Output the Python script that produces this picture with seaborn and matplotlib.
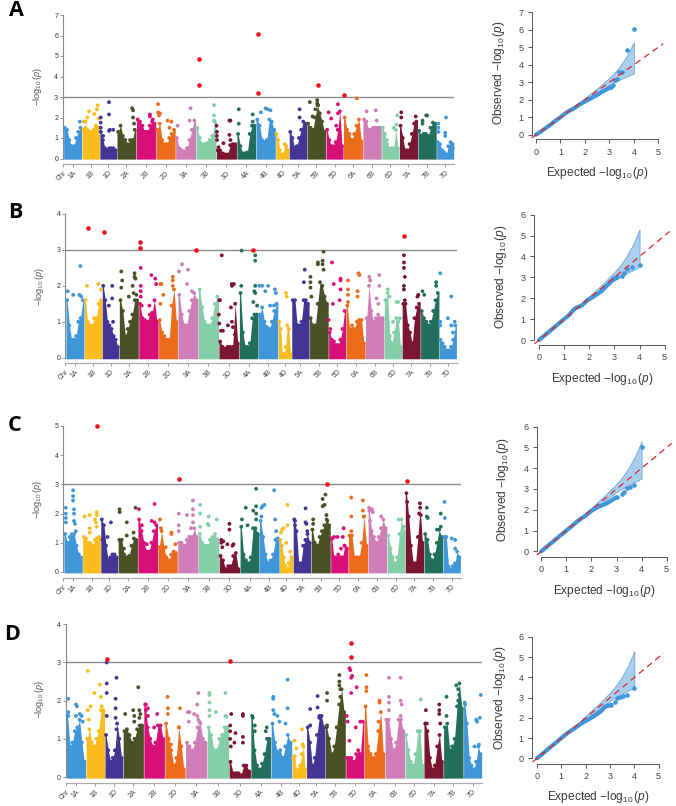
import numpy as np
import pandas as pd
import matplotlib
matplotlib.use("Agg")
import matplotlib.pyplot as plt
import seaborn as sns

sns.set_style("white")
plt.rcParams.update({
    "font.family": ["Liberation Sans", "DejaVu Sans"],
    "mathtext.fontset": "custom",
    "mathtext.rm": "Liberation Sans",
    "mathtext.it": "Liberation Sans:italic",
    "mathtext.bf": "Liberation Sans:bold",
})

W, H = 676, 806
CHROMS = ["1A", "1B", "1D", "2A", "2B", "2D", "3A", "3B", "3D", "4A", "4B", "4D",
          "5A", "5B", "5D", "6A", "6B", "6D", "7A", "7B", "7D"]
CHROM_LEN = [54, 52, 50, 57, 58, 57, 60, 60, 60, 56, 58, 39, 52, 56, 51, 57, 55, 52, 54, 55, 51]
CHROM_COL = ["#3F96D8", "#FBBC1E", "#433594", "#4B5126", "#D80F78", "#EC6C1B", "#CF7DB6",
             "#84CFA7", "#7B1632", "#226F5B", "#3F96D8", "#FBBC1E", "#433594", "#4B5126",
             "#D80F78", "#EC6C1B", "#CF7DB6", "#84CFA7", "#7B1632", "#226F5B", "#3F96D8"]

# Upper edge of the dense mass of points, eight bins along each chromosome
A_ENV = [[1.5,1.4,.9,.6,.6,1.0,1.3,1.5],[1.4,1.5,1.4,1.3,1.3,1.4,1.5,1.5],[1.3,.9,.5,.4,.5,.5,.5,.4],
         [1.3,1.6,1.1,.9,.7,.9,.9,1.4],[1.9,1.8,1.6,1.3,1.3,1.6,1.8,1.7],[1.4,1.7,.9,.7,.7,1.0,1.2,1.4],
         [1.0,.5,.4,.35,.5,.9,1.4,1.85],[1.45,1.0,.7,.7,.75,.9,1.1,1.8],[.4,.4,.25,.2,.2,.65,.7,.7],
         [1.2,.6,.25,.25,.3,1.2,1.6,1.6],[1.9,1.6,.9,.8,.9,1.9,1.8,1.4],[1.2,.9,.4,.2,.2,.7,.6,.4],
         [1.3,1.0,.5,.6,1.0,1.4,1.8,1.7],[1.7,1.5,1.4,2.0,2.6,2.2,1.8,1.3],[1.4,.9,.6,.6,.8,1.4,2.3,.6],
         [2.0,1.4,1.2,.9,1.2,1.6,1.9,.85],[1.9,1.8,1.4,1.4,1.5,1.5,1.5,1.5],[1.5,1.2,.7,.5,.5,.5,1.4,.5],
         [1.6,1.0,.4,.4,.7,1.2,1.7,1.8],[1.35,1.1,1.2,1.2,1.1,1.5,1.75,1.7],[.8,.7,.4,.3,.2,.6,.8,.7]]
B_ENV = [[1.6,.9,.5,.5,.6,1.0,1.1,1.6],[1.6,1.0,.9,.9,1.1,1.1,1.5,1.6],[2.0,1.6,1.0,.9,.8,.6,.5,.3],
         [1.6,1.3,.6,.8,1.0,1.2,1.6,1.6],[1.5,1.1,1.05,1.0,1.2,1.25,1.6,1.0],[1.05,.7,.6,.5,.5,1.45,1.9,1.0],
         [1.75,1.2,.9,.9,1.3,1.6,1.8,1.6],[1.9,1.4,1.0,.9,.9,1.1,1.5,1.7],[.45,.3,.25,.3,.3,.3,1.5,.4],
         [1.8,.7,.3,.3,.4,1.1,1.2,1.2],[1.2,1.4,1.0,.85,.8,1.0,1.3,1.5],[1.0,.8,.1,.1,.3,.9,.8,.1],
         [1.6,1.6,.9,.9,1.0,1.6,1.6,1.5],[1.1,.9,.9,1.5,2.1,2.0,1.7,1.5],[.7,.5,.45,.35,.35,.5,.8,1.3],
         [1.45,.8,.9,.8,1.0,1.05,1.05,.4],[1.1,2.0,1.3,1.0,1.1,1.2,1.1,1.1],[1.6,1.8,.6,.4,.7,1.1,1.0,.3],
         [1.5,1.5,.9,.7,.4,1.1,1.4,1.5],[1.3,1.1,1.0,.9,1.0,1.3,1.6,1.8],[.5,.4,.3,.2,.2,.3,.5,.9]]
C_ENV = [[1.3,1.0,1.2,1.3,1.3,.9,.6,.5],[1.2,1.15,1.0,1.0,.9,1.1,1.15,1.2],[1.8,1.6,.9,.4,.5,.6,.6,.5],
         [1.1,1.1,.6,.5,.55,.9,1.15,1.1],[1.8,1.4,1.0,.7,.7,1.0,1.4,1.6],[.85,1.4,.8,.5,.4,.6,.7,.65],
         [1.0,1.0,.9,1.1,1.2,1.2,1.5,1.2],[1.3,1.0,.9,.9,1.1,1.2,1.3,1.1],[.55,.4,.1,.2,.2,.55,.65,.1],
         [1.55,.6,.4,.3,.5,1.5,1.5,1.3],[1.75,1.2,.6,.3,.4,.6,1.1,1.15],[1.1,.9,.5,.2,.1,.3,.7,.5],
         [1.8,1.4,.3,.3,.9,1.1,1.3,1.0],[1.45,1.0,.9,1.2,1.4,1.6,1.8,1.6],[1.15,.5,.5,.6,.5,.5,.9,.8],
         [1.25,1.25,.5,.5,.5,1.0,1.9,.9],[2.1,1.4,1.2,1.0,1.2,1.5,1.8,1.5],[1.25,.8,.5,.3,.5,1.3,1.8,1.4],
         [2.7,1.9,.9,.3,.3,1.2,2.2,1.0],[1.3,1.1,.6,.4,.6,1.0,1.45,1.2],[1.2,1.2,.2,.1,.2,.3,.7,.5]]
D_ENV = [[1.6,.8,.9,1.2,1.3,1.5,.9,.4],[1.0,1.25,.9,.8,1.0,1.2,1.75,1.75],[1.1,.7,.4,.5,.7,1.4,1.0,.5],
         [1.2,1.25,1.1,.9,1.0,1.25,1.35,1.35],[1.9,1.3,1.0,.8,.9,1.35,1.35,1.0],[1.4,1.0,.7,.3,.5,1.3,.8,.2],
         [.9,.8,.7,.9,1.3,1.4,1.0,.9],[1.3,1.1,.7,.7,1.0,1.1,1.3,1.3],[.4,.1,.1,.1,.05,.3,.3,.15],
         [1.6,.7,.3,.2,.35,.6,1.0,1.0],[1.4,.9,.65,.7,.5,.8,1.1,.9],[.5,.55,.1,.2,.3,.6,.8,.2],
         [1.3,.9,.3,.5,1.1,1.55,1.6,1.3],[1.3,1.0,.6,.8,1.3,1.9,2.3,1.7],[.5,.5,.5,.4,.6,.7,.6,1.45],
         [1.85,.8,.6,.5,.6,1.2,1.7,.6],[1.5,1.5,1.0,.7,.9,1.5,1.5,1.2],[1.1,.7,.4,.3,.6,1.2,1.2,.3],
         [1.4,1.2,.5,.2,.3,.8,1.1,.4],[1.3,1.4,.7,.8,1.0,1.85,2.45,1.8],[1.95,1.4,.5,.3,.2,.4,.8,.6]]

# Isolated points per chromosome: (fraction along the chromosome, -log10 p)
A_PTS = [[(.9,1.8)],[(.1,1.8),(.2,1.8),(.4,2.3),(.3,2.0),(.7,2.17),(.85,2.4),(.9,2.6),(.95,1.95),(.8,1.6)],
         [(.05,2.0),(.05,1.75),(.05,1.5),(.55,2.75),(.55,2.15),(.55,1.35),(.6,1.4),(.8,1.4),(.2,1.1)],
         [(.8,2.45),(.85,2.35),(.85,2.0),(.9,1.7)],[(.7,2.15),(.7,2.05),(.85,1.9)],
         [(.1,2.65),(.1,2.25),(.15,2.1),(.2,2.2),(.6,1.85),(.8,1.8),(.7,1.5)],[(.1,1.6),(.75,2.45),(.7,1.85)],
         [(.05,1.5),(.9,2.6),(.9,2.1),(.9,1.85)],
         [(.0,1.6),(.02,1.3),(.02,1.1),(.03,.9),(.35,.75),(.65,1.85),(.7,1.85),(.65,1.15),(.7,.9),(.9,.65),(.85,.55),(.1,.55)],
         [(.1,2.4),(.1,1.7),(.85,2.15),(.85,1.8)],[(.25,2.25),(.5,2.45),(.6,2.4),(.75,2.35)],[],
         [(.6,2.4),(.6,2.0)],[(.15,2.75),(.55,2.85),(.55,2.7),(.6,2.6),(.3,2.05),(.45,2.4)],
         [(.15,2.25),(.3,1.95),(.7,2.65),(.7,2.2),(.6,1.6)],[(.7,2.93)],[(.2,2.3),(.7,2.35),(.75,1.85)],
         [(.7,1.5),(.9,2.1),(.85,1.65),(.3,.9)],[(.1,2.25),(.1,2.0),(.9,2.05)],
         [(.25,1.85),(.25,1.7),(.45,2.1),(.5,2.1)],[(.1,1.7),(.1,1.5),(.1,1.3),(.5,1.1),(.5,1.25),(.55,2.0),(.95,.5)]]
B_PTS = [[(.1,1.85),(.4,1.75),(.75,1.75),(.8,2.55),(.85,1.7)],[(.15,2.0),(.8,2.05),(.95,1.9)],
         [(.6,2.0),(.6,1.65),(.4,1.45),(.65,1.0)],
         [(.1,2.4),(.15,2.15),(.1,1.95),(.5,1.7),(.7,2.0),(.8,2.35),(.85,2.2),(.8,2.25),(.75,1.8),(.9,1.75)],
         [(.1,2.5),(.1,2.0),(.1,1.85),(.1,1.7),(.65,2.3),(.85,2.2),(.9,2.05),(.15,1.45),(.55,1.45)],
         [(.1,2.05),(.15,2.05),(.25,1.75),(.1,1.5),(.75,2.25),(.75,2.15),(.75,2.0)],
         [(.05,2.4),(.2,2.6),(.5,2.45),(.45,2.05),(.7,1.85)],[],
         [(.14,2.85),(.02,1.6),(.05,1.6),(.0,1.2),(.02,.95),(.1,.75),(.2,.75),(.45,.9),(.65,2.05),(.65,2.0),(.75,2.05),(.6,1.4),(.65,1.0),(.7,.85),(.8,.65)],
         [(.12,2.98),(.1,2.0),(.75,1.55),(.8,1.85),(.85,2.7),(.85,2.85),(.85,2.0),(.85,1.8),(.95,1.45)],
         [(.05,2.0),(.2,2.0),(.35,1.85),(.5,2.0),(.6,1.45),(.85,1.9),(.9,1.8),(.8,1.45)],[(.6,1.8),(.65,1.7)],
         [(.75,2.45),(.7,2.1),(.8,1.3)],
         [(.05,2.25),(.05,2.1),(.05,1.95),(.1,1.7),(.45,2.6),(.45,2.65),(.7,2.7),(.7,2.6),(.75,2.95),(.75,2.45)],
         [(.0,1.05),(.1,.8),(.2,2.65),(.3,2.05),(.25,1.5),(.7,2.2),(.7,2.15),(.7,1.9),(.65,1.6)],
         [(.1,2.15),(.1,1.9),(.1,1.75),(.1,1.55),(.65,2.35),(.7,2.3),(.6,1.85),(.6,1.7)],
         [(.2,2.25),(.25,2.15),(.75,2.3),(.75,2.0),(.6,1.65),(.7,1.5)],
         [(.3,1.7),(.5,1.0),(.7,1.55),(.8,1.55),(.9,1.1),(.2,1.9)],
         [(.1,2.85),(.1,2.65),(.1,2.5),(.15,2.25),(.1,2.0),(.1,1.9),(.15,1.6),(.85,1.7),(.9,1.75)],
         [(.1,1.85),(.2,1.75),(.85,2.1),(.85,2.0)],
         [(.05,2.35),(.05,1.0),(.05,.9),(.5,1.1),(.7,1.7),(.7,.9),(.9,1.0),(.8,.7)]]
C_PTS = [[(.1,2.2),(.1,2.0),(.1,1.85),(.1,1.7),(.5,2.8),(.5,2.6),(.5,2.45),(.55,2.15),(.55,2.0),(.55,1.75),(.6,1.65),(.65,1.4)],
         [(.1,1.9),(.4,1.95),(.4,1.5),(.4,1.35),(.7,1.8),(.75,1.7),(.8,2.05),(.8,1.95),(.8,1.55)],
         [(.6,1.7),(.4,1.2),(.1,1.1)],[(.07,2.15),(.08,2.05),(.45,1.7),(.45,1.25),(.3,.8),(.8,1.35),(.9,2.2)],
         [(.05,2.15),(.2,1.6),(.45,.95),(.85,2.33),(.7,1.75),(.85,1.7)],
         [(.1,1.8),(.15,1.5),(.7,1.35),(.7,1.3),(.9,.95),(.4,.85)],
         [(.05,2.0),(.05,1.6),(.05,1.4),(.45,1.95),(.75,2.45),(.75,2.15),(.75,1.95),(.75,1.7),(.65,1.5)],
         [(.08,2.3),(.08,2.0),(.08,1.55),(.45,1.65),(.5,1.9),(.5,1.6),(.9,1.8)],
         [(.1,1.1),(.1,1.0),(.2,1.05),(.15,.85),(.5,1.65),(.5,1.45),(.4,.95),(.7,.95),(.65,.9)],
         [(.1,1.8),(.3,2.2),(.4,1.6),(.7,2.1),(.85,2.25),(.85,2.0),(.85,1.8),(.85,2.85)],
         [(.1,1.9),(.1,2.2),(.15,2.25),(.25,2.3),(.75,2.8),(.8,1.8),(.85,1.4)],
         [(.1,1.35),(.2,1.45),(.3,1.5),(.6,2.3),(.6,1.6),(.5,1.0)],
         [(.1,1.75),(.1,1.6),(.7,2.18),(.7,1.7),(.75,1.65),(.8,1.4)],
         [(.1,1.8),(.1,1.65),(.6,2.5),(.6,2.25),(.7,2.3),(.75,2.65),(.8,1.95),(.85,1.75)],
         [(.1,1.15),(.2,1.2),(.4,1.2),(.7,1.2),(.75,1.5),(.8,.9),(.6,.8)],
         [(.15,2.55),(.15,1.9),(.15,1.4),(.75,2.45),(.75,2.1),(.8,1.9)],
         [(.05,2.2),(.2,2.15),(.25,2.05),(.7,1.9),(.1,1.75)],[(.65,1.8),(.95,1.55)],
         [(.1,2.4),(.8,2.35),(.75,2.0),(.85,1.95)],[(.15,2.2),(.15,1.9),(.2,1.85),(.9,2.0),(.9,1.55),(.7,1.45)],
         [(.08,2.4),(.1,1.85),(.5,1.15),(.7,1.1),(.7,.8),(.9,.5)]]
D_PTS = [[(.1,2.05),(.1,1.7),(.1,1.6),(.5,1.9),(.55,1.85),(.5,1.6),(.7,1.65),(.8,1.6),(.85,1.45)],
         [(.1,1.75),(.1,2.78),(.25,1.85),(.15,1.5),(.45,2.2),(.75,2.42),(.8,2.1),(.85,1.85)],
         [(.1,1.6),(.1,2.2),(.1,2.45),(.1,3.0),(.65,2.6),(.6,2.05),(.6,1.8),(.6,1.55),(.65,1.25)],
         [(.1,1.65),(.5,1.75),(.55,1.6),(.55,1.45),(.75,2.35),(.8,1.75),(.85,1.65),(.8,1.55)],
         [(.1,1.9),(.1,1.75),(.2,1.8),(.2,1.6),(.65,1.65),(.5,1.3)],
         [(.13,2.1),(.15,1.8),(.15,1.65),(.75,1.8),(.7,1.3),(.3,.85)],
         [(.1,1.7),(.18,1.7),(.15,1.45),(.4,1.65),(.55,1.6),(.6,2.2),(.55,1.9),(.6,1.5),(.65,1.45)],
         [(.1,2.2),(.1,2.15),(.1,1.95),(.1,1.75),(.1,1.6),(.4,1.7),(.85,2.2),(.85,1.6),(.9,1.58)],
         [(.05,1.35),(.05,1.2),(.05,1.0),(.08,.8),(.1,1.65),(.3,1.15),(.25,.9),(.65,1.65),(.65,1.6),(.65,1.05),(.65,.9)],
         [(.1,1.55),(.2,1.35),(.2,1.2),(.8,1.3),(.75,1.2)],
         [(.1,2.1),(.1,2.05),(.1,1.75),(.15,1.65),(.3,1.6),(.4,1.45),(.8,2.55),(.8,1.8),(.7,1.4)],
         [(.15,.95),(.3,.75),(.7,1.25),(.75,.85)],[(.2,1.78),(.2,1.35),(.6,1.82),(.6,2.12),(.7,1.6)],
         [(.08,1.35),(.08,2.0),(.08,2.2),(.7,2.67),(.7,2.5),(.7,2.4),(.75,2.3),(.75,2.1)],
         [(.05,1.6),(.1,1.45),(.2,.95),(.2,2.85),(.25,2.8),(.3,2.6),(.35,2.65),(.3,2.2),(.6,2.35),(.8,1.45),(.55,1.3)],
         [(.1,2.67),(.1,2.35),(.1,2.25),(.75,2.0),(.75,1.95),(.7,1.45)],
         [(.2,2.6),(.2,2.1),(.2,1.95),(.2,1.75),(.8,2.6),(.8,2.0),(.85,1.9),(.8,1.6)],[(.85,2.03),(.7,1.2)],
         [(.1,1.75),(.15,1.4),(.8,1.9),(.8,1.75),(.8,1.65),(.85,1.4)],
         [(.15,1.6),(.15,2.1),(.65,2.4),(.75,2.3),(.8,2.15),(.75,2.0)],
         [(.08,1.9),(.7,1.5),(.75,1.45),(.85,.85),(.6,.8),(.95,2.15),(.9,1.55)]]

# Significant markers: (chromosome, fraction along it, -log10 p)
A_SIG = [("3B",.13,3.6),("3B",.13,4.85),("4B",.08,3.2),("4B",.08,6.05),("5B",.6,3.58),("6A",.05,3.1)]
B_SIG = [("1B",.2,3.6),("1D",.08,3.5),("2B",.08,3.22),("2B",.08,3.05),("3A",.88,3.0),("4A",.72,3.0),("7A",.08,3.38)]
C_SIG = [("1B",.81,5.0),("3A",.07,3.2),("5B",.83,3.02),("7A",.07,3.1)]
D_SIG = [("1D",.1,3.1),("3D",.05,3.03),("5D",.29,3.52),("5D",.29,3.15)]

# QQ plots
A_EXP = [0,.2,.4,.6,.8,1,1.2,1.3,1.5,1.7,1.9,2.1,2.3,2.5,2.7,2.9,3.05,3.15,3.22,3.3,3.4,3.52,3.7,4.0]
A_OBS = [0,.18,.38,.58,.8,1.0,1.22,1.32,1.46,1.65,1.82,1.97,2.12,2.27,2.45,2.6,2.72,2.85,3.1,3.2,3.58,3.6,4.85,6.07]
B_EXP = [0,.3,.6,.9,1.2,1.4,1.5,1.7,1.9,2.2,2.5,2.7,2.9,3.0,3.1,3.3,3.4,3.52,3.7,4.0]
B_OBS = [0,.3,.6,.9,1.2,1.48,1.55,1.65,1.88,2.1,2.35,2.6,2.85,2.95,3.0,3.05,3.22,3.38,3.5,3.6]
C_EXP = [0,.3,.6,.9,1.2,1.5,1.8,2.0,2.2,2.4,2.6,2.8,3.0,3.2,3.3,3.4,3.52,3.7,4.0]
C_OBS = [0,.3,.6,.9,1.2,1.5,1.75,1.95,2.1,2.2,2.3,2.45,2.6,2.75,2.85,3.05,3.12,3.2,5.0]
D_EXP = [0,.3,.6,.9,1.2,1.5,1.8,2.0,2.3,2.6,2.8,3.05,3.2,3.3,3.4,3.52,3.7,4.0]
D_OBS = [0,.3,.6,.9,1.2,1.45,1.7,1.85,2.05,2.3,2.55,2.65,2.8,3.0,3.02,3.1,3.15,3.5]
BAND_EXP = [1.6,2,2.5,3,3.25,3.5,3.75,4]
BAND_UP = [1.65,2.1,2.65,3.25,3.6,4.05,4.6,5.3]
BAND_LOW = [1.55,1.93,2.4,2.85,3.03,3.2,3.35,3.5]

PANELS = [
    dict(letter="A", lx=16, ly=10, env=A_ENV, pts=A_PTS, sig=A_SIG, ymax=7,
         sp=63, end=454, y0=158.5, top=15, ax_y=164, ylx=38, yly=87,
         exp=A_EXP, obs=A_OBS, qsp=531.7, qx0=536, qx5=658.3, qy0=134.7, qtop=12.3, qax=139.3, qmax=7,
         qxl=597, qxy=173, qyl=499, qyy=73),
    dict(letter="B", lx=15, ly=213, env=B_ENV, pts=B_PTS, sig=B_SIG, ymax=4,
         sp=65.3, end=456.7, y0=357.7, top=214, ax_y=363, ylx=40, yly=287,
         exp=B_EXP, obs=B_OBS, qsp=534, qx0=539, qx5=664.7, qy0=340, qtop=214.7, qax=344.7, qmax=6,
         qxl=602, qxy=379, qyl=501, qyy=277),
    dict(letter="C", lx=15, ly=425, env=C_ENV, pts=C_PTS, sig=C_SIG, ymax=5,
         sp=63.3, end=460.7, y0=572, top=426, ax_y=577.7, ylx=38, yly=500,
         exp=C_EXP, obs=C_OBS, qsp=536.7, qx0=541.3, qx5=666.7, qy0=551.3, qtop=426.7, qax=556.7, qmax=6,
         qxl=604, qxy=591, qyl=503, qyy=490),
    dict(letter="D", lx=12, ly=635, env=D_ENV, pts=D_PTS, sig=D_SIG, ymax=4,
         sp=65.7, end=482, y0=777, top=624.3, ax_y=782.7, ylx=39, yly=700,
         exp=D_EXP, obs=D_OBS, qsp=532.3, qx0=537, qx5=658.7, qy0=758.3, qtop=637, qax=763.7, qmax=6,
         qxl=598, qxy=797, qyl=500, qyy=698),
]

GAP = 1.4
starts = np.concatenate([[2.0], 2.0 + np.cumsum(np.array(CHROM_LEN[:-1]) + GAP)])
centers = starts + np.array(CHROM_LEN) / 2
TOTAL = starts[-1] + CHROM_LEN[-1] + 1
palette = dict(zip(CHROMS, CHROM_COL))
QCOL = "#3F96D8"

fig = plt.figure(figsize=(W / 100, H / 100), dpi=100, facecolor="white")


def rect(left, right, top, bottom):
    return [left / W, 1 - bottom / H, (right - left) / W, (bottom - top) / H]


for P in PANELS:
    # Manhattan panel
    ax = fig.add_axes(rect(P["sp"], P["end"], P["top"], P["ax_y"]))
    k = (P["y0"] - P["top"]) / P["ymax"]
    ax.set_xlim(0, TOTAL)
    ax.set_ylim(-(P["ax_y"] - P["y0"]) / k, P["ymax"])
    ax.axhline(3, color="#8a8a8a", lw=1.0, zorder=1)
    rows = []
    for i, c in enumerate(CHROMS):
        env = np.array(P["env"][i])
        w = CHROM_LEN[i] / len(env)
        xs = starts[i] + (np.arange(len(env)) + .5) * w
        # dense mass of points: polygon through the envelope values, held at both chromosome ends
        ex = np.concatenate([[starts[i]], xs, [starts[i] + CHROM_LEN[i]]])
        ey = np.concatenate([[env[0]], env, [env[-1]]])
        ax.fill_between(ex, -.03, ey, color=CHROM_COL[i], lw=0, zorder=2)
        rows += [(c, x, y) for x, y in zip(xs, env)]
        rows += [(c, starts[i] + f * CHROM_LEN[i], y) for f, y in P["pts"][i]]
    df = pd.DataFrame(rows, columns=["chrom", "pos", "logp"])
    sns.scatterplot(data=df, x="pos", y="logp", hue="chrom", palette=palette, s=7.5, linewidth=0,
                    legend=False, ax=ax, zorder=3, clip_on=False)
    sig = pd.DataFrame([(starts[CHROMS.index(c)] + f * CHROM_LEN[CHROMS.index(c)], y) for c, f, y in P["sig"]],
                       columns=["pos", "logp"])
    sns.scatterplot(data=sig, x="pos", y="logp", color="#F0101C", s=11, linewidth=0, ax=ax, zorder=4, clip_on=False)
    ax.set_xlabel("")
    ax.set_ylabel("")
    for s in ("top", "right"):
        ax.spines[s].set_visible(False)
    ax.spines["left"].set_bounds(0, P["ymax"])
    ax.spines["left"].set_color("#888888")
    ax.spines["bottom"].set_color("#aaaaaa")
    ax.spines["left"].set_linewidth(.8)
    ax.spines["bottom"].set_linewidth(.9)
    ax.set_yticks(range(P["ymax"] + 1))
    ax.tick_params(axis="y", length=2, width=.6, color="#888888", labelsize=5, labelcolor="#333333", pad=1.5, left=True)
    ax.set_xticks([0] + list(centers))
    ax.set_xticklabels(["Chr"] + CHROMS, rotation=45, ha="right", rotation_mode="anchor", fontsize=5, color="#444444")
    ax.tick_params(axis="x", length=2, width=.6, color="#888888", pad=2, bottom=True)
    fig.text(P["ylx"] / W, 1 - P["yly"] / H, r"$-\log_{10}(\mathit{p})$", rotation=90, ha="center", va="center",
             fontsize=6.6, color="#555555")
    fig.text(P["lx"] / W, 1 - P["ly"] / H, P["letter"], ha="center", va="center", fontsize=15.5,
             fontweight="bold", family="Open Sans", color="black")

    # QQ panel
    qk = (P["qx5"] - P["qx0"]) / 5
    xr = 5.35
    qa = fig.add_axes(rect(P["qsp"], P["qx0"] + xr * qk, P["qtop"], P["qax"]))
    vk = (P["qy0"] - P["qtop"]) / P["qmax"]
    qa.set_xlim(-(P["qx0"] - P["qsp"]) / qk, xr)
    qa.set_ylim(-(P["qax"] - P["qy0"]) / vk, P["qmax"])
    qa.fill_between(BAND_EXP, BAND_LOW, BAND_UP, facecolor="#A9CFEE", edgecolor="#5B9BD5", lw=.5, zorder=1)
    qdf = pd.DataFrame({"expected": P["exp"], "observed": P["obs"]})
    sns.lineplot(data=qdf[qdf.expected <= 3.1], x="expected", y="observed", color=QCOL, lw=3,
                 estimator=None, sort=False, ax=qa, zorder=3)
    sns.scatterplot(data=qdf[qdf.expected >= 3.0], x="expected", y="observed", color=QCOL, s=11, linewidth=0,
                    ax=qa, zorder=3, clip_on=False)
    qa.plot([-.18, 5.2], [-.18, 5.2], color="#E4222B", lw=.9, ls=(0, (5, 3.5)), zorder=4, clip_on=False)
    qa.set_xlabel("")
    qa.set_ylabel("")
    for s in ("top", "right"):
        qa.spines[s].set_visible(False)
    qa.spines["left"].set_bounds(0, P["qmax"])
    qa.spines["bottom"].set_bounds(0, 5)
    for s in ("left", "bottom"):
        qa.spines[s].set_color("#555555")
        qa.spines[s].set_linewidth(.7)
    qa.set_xticks(range(6))
    qa.set_yticks(range(P["qmax"] + 1))
    qa.tick_params(axis="both", length=3, width=.7, color="#555555", labelsize=6.6, labelcolor="#444444",
                   pad=3, bottom=True, left=True)
    fig.text(P["qxl"] / W, 1 - P["qxy"] / H, r"Expected $-\log_{10}(\mathit{p})$", ha="center", va="center",
             fontsize=8.6, color="#3a3a3a")
    fig.text(P["qyl"] / W, 1 - P["qyy"] / H, r"Observed $-\log_{10}(\mathit{p})$", rotation=90, ha="center",
             va="center", fontsize=8.6, color="#3a3a3a")

fig.savefig("out.png", dpi=100, facecolor="white")
